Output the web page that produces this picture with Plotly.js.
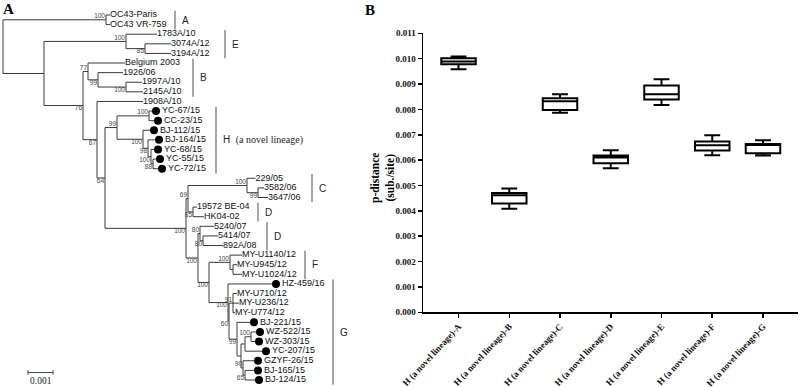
<!DOCTYPE html>
<html><head><meta charset="utf-8">
<script src="https://cdn.plot.ly/plotly-3.0.1.min.js"></script>
<style>html,body{margin:0;padding:0;background:#fff}#chart{width:800px;height:387px}</style>
</head><body><div id="chart"></div>
<script>
// ================= Panel A : phylogenetic tree =================
// nodes in depth-first order; depth = substitutions/site from the root
const nodeName = ['root','nOC43','OC43-Paris','OC43 VR-759','N1','E','1783A/10','E2','3074A/12','3194A/12',
  'N2','B','Belgium 2003','B2','1926/06','B3','1997A/10','2145A/10','N3','1908A/10',
  'N4','H','H1','YC-67/15','CC-23/15','H2','BJ-112/15','H3','BJ-164/15','H4',
  'YC-68/15','H5','YC-55/15','YC-72/15','N5','CD','C','229/05','C2','3582/06',
  '3647/06','D1','19572 BE-04','HK04-02','N6','D2','5240/07','D2b','5414/07','892A/08',
  'N7','F','MY-U1140/12','F2','MY-U945/12','MY-U1024/12','G','HZ-459/16','G2','MY',
  'MY-U710/12','MY-U236/12','MY-U774/12','G3','BJ-221/15','G4','G45','G5','WZ-522/15','WZ-303/15',
  'YC-207/15','G6','GZYF-26/15','G7','BJ-165/15','BJ-124/15'];
const nodeParent = [-1,0,1,1,0,4,5,5,7,7,
  4,10,11,11,13,13,15,15,10,18,
  18,20,21,22,22,21,25,25,27,27,
  29,29,31,31,20,34,35,36,36,38,
  38,35,41,41,34,44,45,45,47,47,
  44,50,51,51,53,53,50,56,56,58,
  59,59,59,58,63,63,65,66,67,67,
  66,65,71,71,73,73];
const nodeDepth = [0,0.00412,0.00428,0.00428,0.00164,0.00492,0.00616,0.00568,0.00672,0.00672,
  0.0032,0.0034,0.00488,0.0038,0.0048,0.00492,0.00556,0.0056,0.00376,0.0056,
  0.00408,0.00456,0.00584,0.00596,0.00604,0.0056,0.00588,0.0058,0.00608,0.00592,
  0.00604,0.006,0.00612,0.0062,0.00732,0.0074,0.00976,0.0101,0.0102,0.01044,
  0.0106,0.0076,0.00776,0.00804,0.0078,0.00788,0.00844,0.008,0.0086,0.0088,
  0.00824,0.00908,0.00956,0.0092,0.00936,0.00956,0.009,0.01076,0.00904,0.0092,
  0.00936,0.00944,0.00928,0.00936,0.00988,0.00952,0.00968,0.00992,0.01012,0.01008,
  0.01036,0.0096,0.01004,0.00968,0.01004,0.01008];
const nodeSupport = [null,100,null,null,null,100,null,85,null,null,
  76,77,null,99,null,100,null,null,67,null,
  64,99,100,null,null,100,null,98,null,100,
  null,88,null,null,100,69,100,null,99,null,
  null,85,null,null,100,80,null,80,null,null,
  100,100,null,null,null,null,100,null,60,91,
  null,null,null,99,null,null,null,100,null,null,
  null,90,null,65,null,null];
const novelTips = ['YC-67/15','CC-23/15','BJ-112/15','BJ-164/15','YC-68/15','YC-55/15','YC-72/15',
  'HZ-459/16','BJ-221/15','WZ-522/15','WZ-303/15','YC-207/15','GZYF-26/15','BJ-165/15','BJ-124/15'];
const cladeNames = ['A','E','B','H','C','D','D','F','G'];
const cladeFirstTip = ['OC43-Paris','1783A/10','Belgium 2003','YC-67/15','229/05','19572 BE-04','5240/07','MY-U1140/12','HZ-459/16'];
const cladeLastTip = ['OC43 VR-759','3194A/12','2145A/10','YC-72/15','3647/06','HK04-02','892A/08','MY-U1024/12','BJ-124/15'];
const scaleBarLength = 0.001;

// ================= Panel B : p-distance box plot =================
const lineages = ['H (a novel lineage)-A','H (a novel lineage)-B','H (a novel lineage)-C','H (a novel lineage)-D',
  'H (a novel lineage)-E','H (a novel lineage)-F','H (a novel lineage)-G'];
const pLower  = [0.00958,0.00408,0.00787,0.00568,0.00817,0.00619,0.00618];
const pQ1     = [0.00978,0.00429,0.00798,0.00588,0.00839,0.00638,0.00627];
const pMedian = [0.00989,0.00461,0.00832,0.00610,0.00860,0.00659,0.00660];
const pQ3     = [0.01002,0.00470,0.00844,0.00618,0.00894,0.00673,0.00664];
const pUpper  = [0.01009,0.00488,0.00860,0.00639,0.00919,0.00698,0.00678];

// ---------- tree layout ----------
const n = nodeName.length;
const children = nodeName.map(() => []);
nodeParent.forEach((p, i) => { if (p >= 0) children[p].push(i); });
const nodeY = new Array(n);
let tipCounter = 0;
(function place(i) {
  if (children[i].length === 0) { nodeY[i] = tipCounter++; return; }
  children[i].forEach(place);
  const ys = children[i].map(c => nodeY[c]);
  nodeY[i] = (Math.min(...ys) + Math.max(...ys)) / 2;
})(0);
const idx = name => nodeName.indexOf(name);

const segX = [], segY = [];
for (let i = 0; i < n; i++) {
  const p = nodeParent[i];
  if (p >= 0) { segX.push(nodeDepth[p], nodeDepth[i], null); segY.push(nodeY[i], nodeY[i], null); }
  if (children[i].length) {
    const ys = children[i].map(c => nodeY[c]);
    segX.push(nodeDepth[i], nodeDepth[i], null); segY.push(Math.min(...ys), Math.max(...ys), null);
  }
}

// pixel helpers for layout of panel A (25 px per 0.001 subs/site)
const PX_PER_UNIT = 25000, X0PX = 3;
const pxd = px => px / PX_PER_UNIT;

const plainX = [], plainY = [], plainT = [];
const novX = [], novY = [], novT = [];
for (let i = 0; i < n; i++) {
  if (children[i].length) continue;
  if (novelTips.includes(nodeName[i])) { novX.push(nodeDepth[i] + pxd(4)); novY.push(nodeY[i]); novT.push(nodeName[i]); }
  else { plainX.push(nodeDepth[i]); plainY.push(nodeY[i]); plainT.push(nodeName[i]); }
}
const aboveSet = ['nOC43','E','B','H','H1','CD','C','D2','F','MY','G5','G6'];
const bsX = [], bsY = [], bsT = [], bsP = [];
for (let i = 0; i < n; i++) {
  if (nodeSupport[i] == null) continue;
  bsX.push(nodeDepth[i] - pxd(1)); bsY.push(nodeY[i]); bsT.push(String(nodeSupport[i]));
  bsP.push(aboveSet.includes(nodeName[i]) ? 'top left' : 'bottom left');
}

const treeFont = 'Liberation Sans, Arial, sans-serif';
const serif = 'Liberation Serif, Times New Roman, serif';
const traces = [
  {type:'scatter', mode:'lines', x:segX, y:segY, xaxis:'x2', yaxis:'y2',
   line:{color:'#3a3a3a', width:1}, hoverinfo:'skip', showlegend:false, connectgaps:false},
  {type:'scatter', mode:'text', x:plainX, y:plainY, text:plainT, textposition:'middle right',
   xaxis:'x2', yaxis:'y2', textfont:{family:treeFont, size:9, color:'#111111'}, showlegend:false, hoverinfo:'skip'},
  {type:'scatter', mode:'markers+text', x:novX, y:novY, text:novT, textposition:'middle right',
   marker:{size:8, color:'#000000'}, xaxis:'x2', yaxis:'y2',
   textfont:{family:treeFont, size:9, color:'#111111'}, showlegend:false, hoverinfo:'skip'},
  {type:'scatter', mode:'text', x:bsX, y:bsY, text:bsT, textposition:bsP,
   xaxis:'x2', yaxis:'y2', textfont:{family:treeFont, size:6.5, color:'#444444'}, showlegend:false, hoverinfo:'skip'},
  {type:'box', x:lineages, q1:pQ1, median:pMedian, q3:pQ3, lowerfence:pLower, upperfence:pUpper,
   fillcolor:'#ffffff', line:{color:'#000000', width:2}, whiskerwidth:0.46, width:0.68,
   boxpoints:false, showlegend:false, xaxis:'x', yaxis:'y', hoverinfo:'skip'}
];

// clade brackets
const bracketPx = [175, 225, 193, 216, 312, 258, 267, 305, 333];
const shapes = [], annotations = [];
cladeNames.forEach((c, k) => {
  const y0 = nodeY[idx(cladeFirstTip[k])] - 0.45, y1 = nodeY[idx(cladeLastTip[k])] + 0.5;
  const bx = pxd(bracketPx[k] - X0PX);
  shapes.push({type:'line', xref:'x2', yref:'y2', x0:bx, x1:bx, y0:y0, y1:y1, line:{color:'#888', width:1.5}});
  const label = c === 'H' ? 'H&nbsp;&nbsp;<span style="font-family:Liberation Serif">(a novel lineage)</span>' : c;
  annotations.push({xref:'x2', yref:'y2', x:bx + pxd(5), y:(y0 + y1) / 2, text:label, showarrow:false,
    xanchor:'left', yanchor:'middle', font:{family:treeFont, size:10, color:'#222'}});
});
// scale bar
const sbY = 1 - 372.5 / 387;
const sbX0 = pxd(28 - X0PX);
shapes.push({type:'line', xref:'x2', yref:'paper', x0:sbX0, x1:sbX0 + scaleBarLength, y0:sbY, y1:sbY, line:{color:'#444', width:1}});
shapes.push({type:'line', xref:'x2', yref:'paper', x0:sbX0, x1:sbX0, y0:sbY - 0.006, y1:sbY + 0.006, line:{color:'#444', width:1}});
shapes.push({type:'line', xref:'x2', yref:'paper', x0:sbX0 + scaleBarLength, x1:sbX0 + scaleBarLength, y0:sbY - 0.006, y1:sbY + 0.006, line:{color:'#444', width:1}});
annotations.push({xref:'x2', yref:'paper', x:sbX0 + scaleBarLength / 2, y:1 - 380.5 / 387, text:String(scaleBarLength),
  showarrow:false, yanchor:'middle', font:{family:serif, size:9.5, color:'#222'}});
// panel letters and y title
annotations.push({xref:'paper', yref:'paper', x:8/800, y:1 - 9/387, text:'A', showarrow:false,
  xanchor:'center', yanchor:'middle', font:{family:serif, size:15, color:'#000', weight:'bold'}});
annotations.push({xref:'paper', yref:'paper', x:370/800, y:1 - 10/387, text:'B', showarrow:false,
  xanchor:'center', yanchor:'middle', font:{family:serif, size:15, color:'#000', weight:'bold'}});
annotations.push({xref:'paper', yref:'paper', x:383/800, y:1 - 178/387, text:'p-distance<br>(sub./site)', showarrow:false,
  textangle:-90, xanchor:'center', yanchor:'middle', font:{family:serif, size:11.5, color:'#000', weight:'bold'}});

const yTop = 33.3, yBot = 312.3, tipTopPx = 15, tipStepPx = 9.605;
const layout = {
  width:800, height:387, margin:{l:0, r:0, t:0, b:0}, paper_bgcolor:'#fff', plot_bgcolor:'#fff',
  showlegend:false,
  xaxis:{domain:[423/800, 798/800], anchor:'y', range:[-0.7, 6.69], type:'category',
    showline:true, linecolor:'#000', linewidth:1.5, ticks:'outside', ticklen:4, tickwidth:1.5, tickcolor:'#000',
    tickangle:-47, showgrid:false, zeroline:false,
    tickfont:{family:serif, size:9, color:'#111', weight:'bold'}},
  yaxis:{domain:[1 - yBot/387, 1 - yTop/387], anchor:'x', range:[0, 0.011], dtick:0.001, tick0:0, tickformat:'.3f',
    showline:true, linecolor:'#000', linewidth:1.5, ticks:'outside', ticklen:4, tickwidth:1.5, tickcolor:'#000',
    showgrid:false, zeroline:false, tickfont:{family:serif, size:9, color:'#111', weight:'bold'}},
  xaxis2:{domain:[0, 0.52], anchor:'y2', range:[pxd(-X0PX), pxd(416 - X0PX)], visible:false},
  yaxis2:{domain:[0, 1], anchor:'x2', range:[(387 - tipTopPx)/tipStepPx, -tipTopPx/tipStepPx], visible:false},
  shapes:shapes, annotations:annotations
};
Plotly.newPlot('chart', traces, layout, {staticPlot:true});
</script></body></html>
